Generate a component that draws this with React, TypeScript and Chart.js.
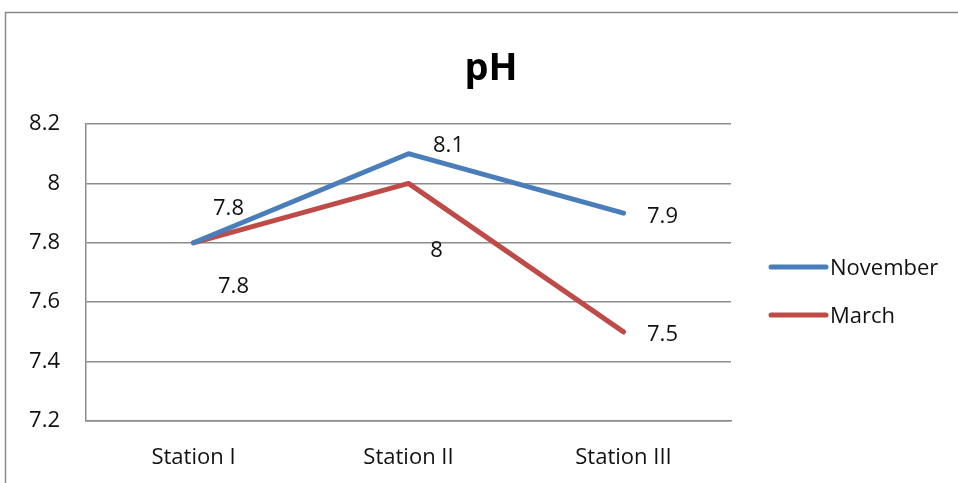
import React, { useEffect, useRef } from "react";
import { Chart, registerables } from "chart.js";

Chart.register(...registerables);

const categories = ["Station I", "Station II", "Station III"];
const november = [7.8, 8.1, 7.9];
const march = [7.8, 8.0, 7.5];
const seriesNames = ["November", "March"];
const yTicks = [7.2, 7.4, 7.6, 7.8, 8.0, 8.2];
const titleText = "pH";

const FONT = "'Open Sans', 'Noto Sans', sans-serif";
const BLUE = "#4a7ebb";
const RED = "#be4b48";
const GRID = "#8c8c8c";

// label offsets (px) relative to each point, per dataset
const labelOffsets = [
  [[35, -34], [40, -8], [39, 4]],
  [[40, 44], [28, 67], [39, 3]],
];

const decor = {
  id: "decor",
  afterDraw(chart: any) {
    const ctx = chart.ctx;
    const area = chart.chartArea;
    ctx.save();
    // outer frame
    ctx.strokeStyle = "#8a8a8a";
    ctx.lineWidth = 1.5;
    ctx.beginPath();
    ctx.moveTo(5.5, chart.height);
    ctx.lineTo(5.5, 12.5);
    ctx.lineTo(chart.width, 12.5);
    ctx.stroke();
    // title
    ctx.fillStyle = "#000";
    ctx.font = `bold 38px ${FONT}`;
    ctx.textAlign = "center";
    ctx.textBaseline = "middle";
    ctx.fillText(titleText, 491, 69);
    // data labels
    ctx.font = `22px ${FONT}`;
    ctx.fillStyle = "#111";
    chart.data.datasets.forEach((ds: any, i: number) => {
      const meta = chart.getDatasetMeta(i);
      meta.data.forEach((pt: any, j: number) => {
        const off = labelOffsets[i][j];
        const v = ds.data[j];
        ctx.fillText(String(Math.round(v * 10) / 10), pt.x + off[0], pt.y + off[1]);
      });
    });
    // legend
    const lx = area.right + 40;
    const ys = [267, 315];
    chart.data.datasets.forEach((ds: any, i: number) => {
      ctx.strokeStyle = ds.borderColor;
      ctx.lineWidth = 5;
      ctx.lineCap = "round";
      ctx.beginPath();
      ctx.moveTo(lx, ys[i]);
      ctx.lineTo(lx + 55, ys[i]);
      ctx.stroke();
      ctx.fillStyle = "#111";
      ctx.textAlign = "left";
      ctx.fillText(ds.label, lx + 59, ys[i] + 2);
    });
    ctx.restore();
  },
};

export default function App() {
  const ref = useRef<HTMLCanvasElement>(null);
  useEffect(() => {
    if (!ref.current) return;
    const chart = new Chart(ref.current, {
      type: "line",
      data: {
        labels: categories,
        datasets: [
          {
            label: seriesNames[0],
            data: november,
            borderColor: BLUE,
            backgroundColor: BLUE,
            borderWidth: 5,
            pointRadius: 0,
            tension: 0,
            borderCapStyle: "round",
            borderJoinStyle: "round",
          },
          {
            label: seriesNames[1],
            data: march,
            borderColor: RED,
            backgroundColor: RED,
            borderWidth: 5,
            pointRadius: 0,
            tension: 0,
            borderCapStyle: "round",
            borderJoinStyle: "round",
          },
        ],
      },
      options: {
        responsive: false,
        animation: false,
        layout: { padding: { left: 0, top: 124, right: 227, bottom: 0 } },
        plugins: {
          legend: { display: false },
          title: { display: false },
          tooltip: { enabled: false },
        },
        scales: {
          x: {
            offset: true,
            grid: { display: false, drawTicks: false },
            border: { display: true, color: GRID, width: 1.5 },
            ticks: { color: "#111", font: { family: FONT, size: 22 }, padding: 24, maxRotation: 0 },
            afterFit: (s: any) => { s.height = 62; },
          },
          y: {
            min: yTicks[0],
            max: yTicks[yTicks.length - 1],
            afterBuildTicks: (s: any) => { s.ticks = yTicks.map((v) => ({ value: v })); },
            grid: { color: GRID, lineWidth: 1.5, drawTicks: false },
            border: { display: true, color: GRID, width: 1.5 },
            ticks: {
              color: "#111",
              font: { family: FONT, size: 22 },
              padding: 26,
              callback: (v: any) => String(Math.round(Number(v) * 10) / 10),
            },
            afterFit: (s: any) => { s.width = 86; },
          },
        },
      },
      plugins: [decor],
    });
    return () => chart.destroy();
  }, []);
  return (
    <div style={{ position: "absolute", left: 0, top: 0, width: 958, height: 483, background: "#fff" }}>
      <canvas ref={ref} width={958} height={483} style={{ display: "block" }} />
    </div>
  );
}
